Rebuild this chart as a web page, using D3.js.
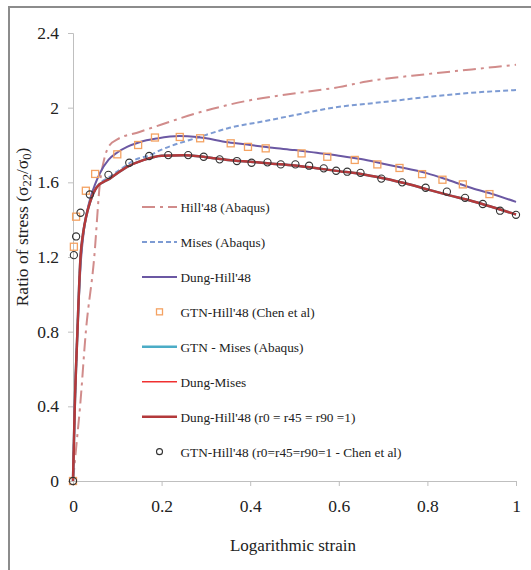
<!DOCTYPE html>
<html>
<head>
<meta charset="utf-8">
<script src="https://cdn.jsdelivr.net/npm/d3@7"></script>
<style>
  body { margin: 0; background: #fff; }
  svg text { font-family: "Liberation Serif", Tinos, "Times New Roman", Times, serif; fill: #222; }
</style>
</head>
<body>
<div id="chart"></div>
<script>
var W = 531, H = 570
var margin = {top: 33, right: 15, bottom: 89, left: 73}
var width = 516 - margin.left
var height = 481 - margin.top
var serif = '"Liberation Serif", Tinos, "Times New Roman", Times, serif'

// series (x = logarithmic strain, y = stress ratio)
var hillAbaqusX = [0, 0.008, 0.016, 0.029, 0.048, 0.061, 0.07, 0.083, 0.1, 0.15, 0.2, 0.286, 0.4, 0.512, 0.6, 0.663, 0.8, 0.9, 1.0]
var hillAbaqusY = [0, 0.2, 0.4, 0.8, 1.2, 1.6, 1.72, 1.80, 1.83, 1.87, 1.91, 1.975, 2.04, 2.08, 2.11, 2.14, 2.18, 2.205, 2.23]

var misesAbaqusX = [0, 0.004, 0.01, 0.017, 0.023, 0.03, 0.038, 0.054, 0.083, 0.12, 0.135, 0.174, 0.2, 0.286, 0.35, 0.437, 0.5, 0.587, 0.7, 0.81, 0.9, 1.0]
var misesAbaqusY = [0, 0.4, 0.8, 1.2, 1.33, 1.42, 1.49, 1.575, 1.63, 1.69, 1.715, 1.746, 1.775, 1.843, 1.89, 1.93, 1.96, 2.0, 2.03, 2.06, 2.08, 2.094]

var dungHillX = [0, 0.004, 0.01, 0.017, 0.025, 0.038, 0.05, 0.061, 0.08, 0.1, 0.122, 0.15, 0.19, 0.24, 0.28, 0.35, 0.4, 0.45, 0.5, 0.55, 0.6, 0.65, 0.7, 0.75, 0.8, 0.85, 0.9, 0.95, 1.0]
var dungHillY = [0, 0.4, 0.8, 1.15, 1.35, 1.505, 1.59, 1.65, 1.72, 1.76, 1.79, 1.815, 1.835, 1.848, 1.843, 1.815, 1.80, 1.785, 1.773, 1.758, 1.743, 1.725, 1.70, 1.675, 1.648, 1.61, 1.57, 1.535, 1.495]

var dungHillR1X = [0, 0.004, 0.01, 0.017, 0.023, 0.03, 0.038, 0.054, 0.083, 0.12, 0.16, 0.2, 0.25, 0.3, 0.35, 0.4, 0.45, 0.5, 0.55, 0.6, 0.65, 0.7, 0.75, 0.8, 0.85, 0.9, 0.95, 1.0]
var dungHillR1Y = [0, 0.4, 0.8, 1.2, 1.33, 1.42, 1.49, 1.575, 1.62, 1.68, 1.72, 1.742, 1.745, 1.735, 1.72, 1.71, 1.70, 1.69, 1.675, 1.66, 1.645, 1.622, 1.595, 1.562, 1.53, 1.50, 1.465, 1.428]

var chenSqX = [0, 0.002, 0.007, 0.029, 0.05, 0.1, 0.147, 0.185, 0.241, 0.287, 0.356, 0.395, 0.435, 0.516, 0.574, 0.636, 0.687, 0.737, 0.788, 0.834, 0.88, 0.94]
var chenSqY = [0, 1.255, 1.416, 1.555, 1.645, 1.75, 1.80, 1.84, 1.843, 1.836, 1.809, 1.79, 1.782, 1.755, 1.737, 1.72, 1.696, 1.677, 1.644, 1.614, 1.589, 1.537]

var chenCircX = [0, 0.002, 0.007, 0.017, 0.038, 0.08, 0.127, 0.172, 0.215, 0.26, 0.295, 0.331, 0.37, 0.403, 0.439, 0.469, 0.502, 0.533, 0.566, 0.594, 0.619, 0.649, 0.696, 0.743, 0.796, 0.844, 0.885, 0.925, 0.964, 1.0]
var chenCircY = [0, 1.21, 1.31, 1.437, 1.535, 1.64, 1.705, 1.741, 1.746, 1.746, 1.737, 1.723, 1.714, 1.705, 1.707, 1.696, 1.696, 1.689, 1.675, 1.662, 1.657, 1.651, 1.62, 1.60, 1.571, 1.55, 1.517, 1.484, 1.448, 1.426]

var xTicks = [0, 0.2, 0.4, 0.6, 0.8, 1]
var yTicks = [0, 0.4, 0.8, 1.2, 1.6, 2, 2.4]

var legendNames = ["Hill'48 (Abaqus)", "Mises (Abaqus)", "Dung-Hill'48", "GTN-Hill'48 (Chen et al)",
  "GTN - Mises (Abaqus)", "Dung-Mises", "Dung-Hill'48 (r0 = r45 = r90 =1)", "GTN-Hill'48 (r0=r45=r90=1 - Chen et al)"]

var zip = (xs, ys) => xs.map((x, i) => [x, ys[i]])

var svg = d3.select('#chart').append('svg')
  .attr('width', W)
  .attr('height', H)

// outer frame
svg.append('rect')
  .attr('x', 9).attr('y', 7)
  .attr('width', 560).attr('height', 600)
  .attr('fill', 'none')
  .attr('stroke', '#8c8c8c')
  .attr('stroke-width', 2)

var g = svg.append('g')
  .attr('transform', 'translate(' + margin.left + ',' + margin.top + ')')

var x = d3.scaleLinear().domain([0, 1]).range([0, width])
var y = d3.scaleLinear().domain([0, 2.4]).range([height, 0])

var xAxis = g.append('g')
  .attr('transform', 'translate(0,' + height + ')')
  .call(d3.axisBottom(x).tickValues(xTicks).tickSize(5).tickPadding(14).tickFormat(d3.format('')))
var yAxis = g.append('g')
  .call(d3.axisLeft(y).tickValues(yTicks).tickSize(5).tickPadding(9).tickFormat(d3.format('')))

;[xAxis, yAxis].forEach((a) => {
  a.attr('font-family', null)
  a.selectAll('path, line').attr('stroke', '#bfbfbf')
  a.selectAll('text')
    .style('font-family', serif)
    .style('font-size', '17.5px')
    .attr('fill', '#222')
})

// axis titles
svg.append('text')
  .attr('x', 293).attr('y', 551)
  .attr('text-anchor', 'middle')
  .style('font-family', serif)
  .style('font-size', '17px')
  .text('Logarithmic strain')

var yl = svg.append('text')
  .attr('transform', 'translate(28,227) rotate(-90)')
  .attr('text-anchor', 'middle')
  .style('font-family', serif)
  .style('font-size', '17.5px')
yl.append('tspan').text('Ratio of  stress (σ')
yl.append('tspan').attr('dy', 3).style('font-size', '12.5px').text('22')
yl.append('tspan').attr('dy', -3).text('/σ')
yl.append('tspan').attr('dy', 3).style('font-size', '12.5px').text('0')
yl.append('tspan').attr('dy', -3).text(')')

var line = d3.line()
  .x((d) => x(d[0]))
  .y((d) => y(d[1]))
  .curve(d3.curveMonotoneX)

var styles = [
  {color: '#d18c8b', w: 2, dash: '13,5,3,5'},
  {color: '#7d9bd3', w: 2, dash: '5,3'},
  {color: '#6b58a3', w: 2, dash: null},
  {color: '#f4a262', marker: 'square'},
  {color: '#4bacc6', w: 2.5, dash: null},
  {color: '#f03030', w: 1.5, dash: null},
  {color: '#b3393b', w: 2.5, dash: null},
  {color: '#333', marker: 'circle'}
]

function drawLine(data, s) {
  g.append('path')
    .datum(data)
    .attr('d', line)
    .attr('fill', 'none')
    .attr('stroke', s.color)
    .attr('stroke-width', s.w)
    .attr('stroke-dasharray', s.dash)
}

drawLine(zip(hillAbaqusX, hillAbaqusY), styles[0])
drawLine(zip(misesAbaqusX, misesAbaqusY), styles[1])
drawLine(zip(dungHillX, dungHillY), styles[2])
drawLine(zip(dungHillR1X, dungHillR1Y), styles[4])
drawLine(zip(dungHillR1X, dungHillR1Y), styles[5])
drawLine(zip(dungHillR1X, dungHillR1Y), styles[6])

g.selectAll('.sq')
  .data(zip(chenSqX, chenSqY))
  .enter().append('rect')
    .attr('class', 'sq')
    .attr('x', (d) => x(d[0]) - 3.5)
    .attr('y', (d) => y(d[1]) - 3.5)
    .attr('width', 7).attr('height', 7)
    .attr('fill', 'none')
    .attr('stroke', styles[3].color)
    .attr('stroke-width', 1.3)

g.selectAll('.circ')
  .data(zip(chenCircX, chenCircY))
  .enter().append('circle')
    .attr('class', 'circ')
    .attr('cx', (d) => x(d[0]))
    .attr('cy', (d) => y(d[1]))
    .attr('r', 3.6)
    .attr('fill', 'none')
    .attr('stroke', styles[7].color)
    .attr('stroke-width', 1.1)

// legend
var legend = svg.append('g')
var lg = legend.selectAll('g')
  .data(legendNames)
  .enter().append('g')
    .attr('transform', (d, i) => 'translate(142,' + (207 + i * 34.95) + ')')

lg.each(function (d, i) {
  var s = styles[i]
  var el = d3.select(this)
  if (s.marker === 'square') {
    el.append('rect').attr('x', 14.5).attr('y', -3).attr('width', 6).attr('height', 6)
      .attr('fill', 'none').attr('stroke', s.color).attr('stroke-width', 1.3)
  } else if (s.marker === 'circle') {
    el.append('circle').attr('cx', 17.5).attr('cy', 0).attr('r', 3)
      .attr('fill', 'none').attr('stroke', s.color).attr('stroke-width', 1.1)
  } else {
    el.append('line').attr('x1', 0).attr('x2', 35).attr('y1', 0).attr('y2', 0)
      .attr('stroke', s.color).attr('stroke-width', s.w).attr('stroke-dasharray', s.dash)
  }
  el.append('text')
    .attr('x', 38.5).attr('y', 5)
    .style('font-family', serif)
    .style('font-size', '13.3px')
    .text(d)
})
</script>
</body>
</html>
